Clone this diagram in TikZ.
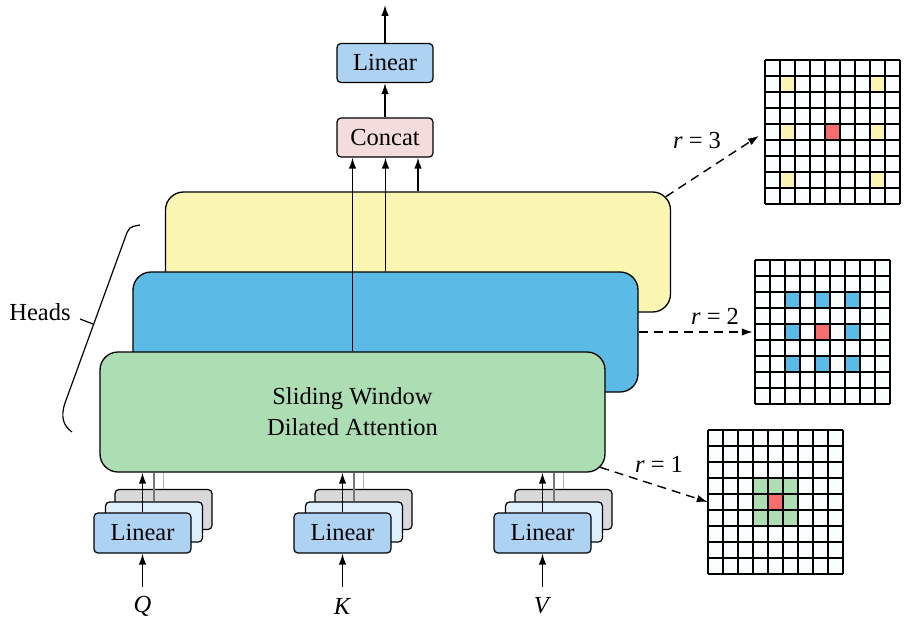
\documentclass[tikz,border=0pt]{standalone}
\usepackage{fontspec}
\setmainfont{Liberation Serif}
\usetikzlibrary{arrows.meta,calc}
\definecolor{cyel}{HTML}{FAF5B0}
\definecolor{cblue}{HTML}{5CBBE6}
\definecolor{cgreen}{HTML}{ADDEB3}
\definecolor{cred}{HTML}{F76E6E}
\definecolor{clin}{HTML}{AED3F2}
\definecolor{clin2}{HTML}{DEF0FB}
\definecolor{cgray}{HTML}{D9D9D9}
\definecolor{cpink}{HTML}{F3DCDB}
\definecolor{ccell}{HTML}{FAFDFD}
\tikzset{
  every node/.style={font=\fontsize{24.5}{31}\selectfont},
  head/.style={draw, line width=1.3pt, rounded corners=18pt, minimum width=505pt, minimum height=120pt, inner sep=0pt},
  smallbox/.style={draw, line width=1.2pt, rounded corners=4pt, minimum width=97pt, minimum height=40pt, inner sep=0pt},
  arr/.style={line width=1.5pt, -{Latex[length=11pt,width=7.5pt]}},
  darr/.style={line width=1.4pt, dash pattern=on 9pt off 6pt, -{Latex[length=11pt,width=7.5pt]}},
  gridbox/.style={minimum width=135pt, minimum height=144pt, inner sep=0pt, fill=ccell},
}
\begin{document}
\begin{tikzpicture}[x=1pt,y=-1pt]
\useasboundingbox (0,0) rectangle (910,626);

% heads
\node[head, fill=cyel] (yellow) at (418,252) {};
\node[head, fill=cblue] (blue) at (385.5,332) {};
\node[head, fill=cgreen, align=center] (green) at (352.5,412) {Sliding Window\\Dilated Attention};

% top part
\node[smallbox, fill=cpink, minimum width=96pt, minimum height=39pt] (concat) at (385,137.5) {Concat};
\node[smallbox, fill=clin, minimum width=96pt, minimum height=39pt] (outlin) at (385,63) {Linear};
\coordinate (out) at (385,5);
\draw[arr] (outlin.north) -- (out);
\draw[arr] (concat.north) -- (outlin.south);
\draw[arr] (green.north) -- (green.north |- concat.south);
\draw[arr] (blue.north) -- (blue.north |- concat.south);
\draw[arr] (yellow.north) -- (yellow.north |- concat.south);

% brace
\draw[line width=1.2pt] (140,225) .. controls (129,227) .. (125,238) -- (65,403) .. controls (60,418) and (64,426) .. (72,432);
\draw[line width=1.2pt] (93,324) -- (80,319);
\node (heads) at (40,312) {Heads};

% linear stacks
\foreach \cx/\lab/\nm in {142.5/Q/q, 342.5/K/k, 542.5/V/v}{
  \node[smallbox, fill=cgray] (\nm3) at (\cx+21,509.5) {};
  \node[smallbox, fill=clin2] (\nm2) at (\cx+11.5,522) {};
  \node[smallbox, fill=clin] (\nm1) at (\cx,533) {Linear};
  \draw[line width=1.2pt, draw={rgb,255:red,175;green,175;blue,175}] (\nm3.north) -- (\nm3.north |- green.south);
  \draw[line width=1.2pt, draw={rgb,255:red,120;green,120;blue,120}] (\nm2.north) -- (\nm2.north |- green.south);
  \draw[arr] (\nm1.north) -- (\nm1.north |- green.south);
  \node (\nm in) at (\cx,606) {\textit{\lab}};
  \coordinate (\nm src) at (\cx,587);
  \draw[arr] (\nm src) -- (\nm1.south);
}

% grids
\node[gridbox] (g3) at (832.5,132) {};
\node[gridbox] (g2) at (822.5,332) {};
\node[gridbox] (g1) at (775.5,502) {};
\def\cw{15}
\def\ch{16}
% r=3 highlights
\foreach \r/\c in {1/1,1/7,4/1,4/7,7/1,7/7}{
  \fill[cyel] ($(g3.north west)+(\c*\cw,\r*\ch)$) rectangle +(\cw,\ch);
}
\fill[cred] ($(g3.north west)+(4*\cw,4*\ch)$) rectangle +(\cw,\ch);
% r=2 highlights
\foreach \r/\c in {2/2,2/4,2/6,4/2,4/6,6/2,6/4,6/6}{
  \fill[cblue] ($(g2.north west)+(\c*\cw,\r*\ch)$) rectangle +(\cw,\ch);
}
\fill[cred] ($(g2.north west)+(4*\cw,4*\ch)$) rectangle +(\cw,\ch);
% r=1 highlights
\fill[cgreen] ($(g1.north west)+(3*\cw,3*\ch)$) rectangle +(3*\cw,3*\ch);
\fill[cred] ($(g1.north west)+(4*\cw,4*\ch)$) rectangle +(\cw,\ch);
% grid lines
\foreach \g in {g1,g2,g3}{
  \foreach \i in {0,...,9}{
    \draw[line width=1.5pt] ($(\g.north west)+(\i*\cw,0)$) -- ++(0,144);
    \draw[line width=1.5pt] ($(\g.north west)+(0,\i*\ch)$) -- ++(135,0);
  }
}

% dilation arrows
\draw[darr, shorten >=7pt] ($(yellow.north east)+(-5.3,5.3)$) -- (g3.west);
\node at (697,141) {\textit{r} = 3};
\draw[darr, shorten >=2pt] (blue.east) -- (blue.east -| g2.west);
\node at (715,316) {\textit{r} = 2};
\draw[darr] ($(green.south east)+(-5.3,-5.3)$) -- (g1.west);
\node at (659,464) {\textit{r} = 1};
\end{tikzpicture}
\end{document}
